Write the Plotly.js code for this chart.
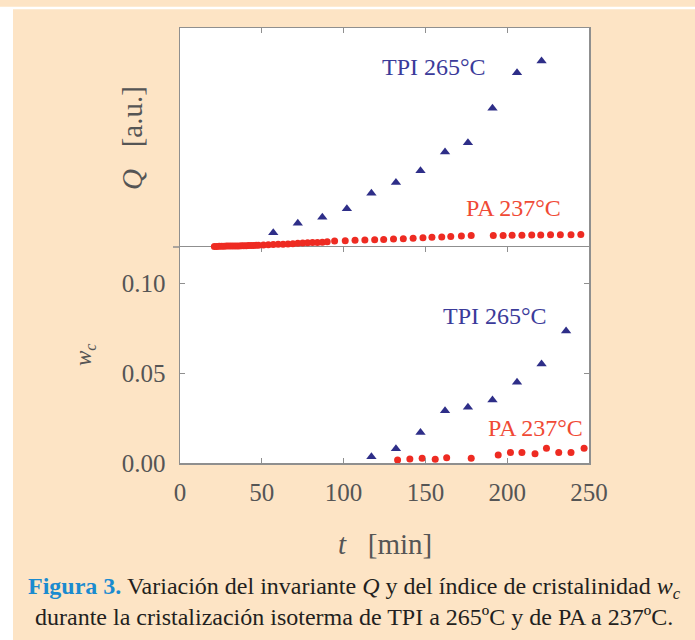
<!DOCTYPE html>
<html>
<head>
<meta charset="utf-8">
<script src="https://cdn.plot.ly/plotly-3.0.1.min.js"></script>
<style>html,body{margin:0;padding:0;background:#fde4c5;}</style>
</head>
<body>
<div id="chart" style="width:695px;height:640px;"></div>
<script>
// ---- data ----
// Top panel: invariant Q (arbitrary units)
const tQ_TPI = [57, 72, 87, 102, 117, 132, 147, 162, 176, 191, 206, 221];
const Q_TPI  = [0.065, 0.108, 0.136, 0.175, 0.245, 0.295, 0.348, 0.434, 0.476, 0.633, 0.796, 0.849];

const tQ_PA = [21, 22.5, 24, 25.5, 27, 28.5, 30, 31.5, 33, 34.5, 36, 37.5, 39, 40.5, 42, 43.5, 45, 46.5, 48,
               51, 54, 57, 60, 63, 66, 69, 72, 75, 78, 81, 84, 87, 90,
               94.5, 101, 107, 113, 119, 124.5, 130.5, 136.5, 142.5, 148.5, 154, 160, 165.5, 172, 178,
               191.5, 197.5, 203, 209, 215, 220.5, 226.5, 232.5, 239, 245];
const Q_PA  = [0.002, 0.002, 0.003, 0.003, 0.003, 0.004, 0.004, 0.004, 0.005, 0.005, 0.005, 0.006, 0.006, 0.006, 0.007, 0.007, 0.007, 0.008, 0.008,
               0.009, 0.010, 0.011, 0.012, 0.013, 0.014, 0.015, 0.017, 0.018, 0.019, 0.020, 0.021, 0.022, 0.024,
               0.027, 0.029, 0.031, 0.032, 0.033, 0.034, 0.036, 0.038, 0.040, 0.042, 0.044, 0.046, 0.048, 0.050, 0.052,
               0.053, 0.053, 0.054, 0.054, 0.055, 0.055, 0.056, 0.056, 0.056, 0.057];

// Bottom panel: crystallinity index w_c
const tW_TPI = [117, 132, 147, 162, 176, 191, 206, 221, 236];
const W_TPI  = [0.0035, 0.0079, 0.017, 0.029, 0.031, 0.035, 0.0448, 0.055, 0.0733];

const tW_PA = [133, 140.5, 148, 156, 163, 178, 194.5, 202, 209, 217, 224, 231.5, 239, 247];
const W_PA  = [0.0017, 0.0022, 0.0026, 0.0021, 0.0029, 0.0026, 0.0044, 0.0059, 0.0059, 0.0052, 0.0082, 0.0059, 0.0059, 0.0082];

const xTicks = [0, 50, 100, 150, 200, 250];
const wTicks = [0, 0.05, 0.10];
const wTickText = ['0.00', '0.05', '0.10'];

const labelTPI = 'TPI 265°C';
const labelPA = 'PA 237°C';
const xTitle = '<i>t</i>   [min]';
const qTitle = '<i>Q</i>   [a.u.]';
const wTitle = '<i>w<sub>c</sub></i>';
const caption = '<b><span style="color:#1b8bcf">Figura 3.</span></b> Variación del invariante <i>Q</i> y del índice de cristalinidad <i>w<sub>c</sub></i><br>durante la cristalización isoterma de TPI a 265ºC y de PA a 237ºC.';

// ---- style ----
const SERIF = "'Liberation Serif', 'Times New Roman', serif";
const NAVY = '#2e2e88';
const RED = '#ee2b22';
const FRAME = '#8f8f8f';
const TICKCOL = '#555555';
const PEACH = '#fde4c5';

const triMarker = {symbol: 'triangle-up', size: 9, color: NAVY};
const dotMarker = {symbol: 'circle', size: 7, color: RED};

const traces = [
  {x: tQ_PA, y: Q_PA, xaxis: 'x2', yaxis: 'y2', mode: 'markers', marker: dotMarker, cliponaxis: false, name: labelPA},
  {x: tQ_TPI, y: Q_TPI, xaxis: 'x2', yaxis: 'y2', mode: 'markers', marker: triMarker, cliponaxis: false, name: labelTPI},
  {x: tW_PA, y: W_PA, xaxis: 'x', yaxis: 'y', mode: 'markers', marker: dotMarker, cliponaxis: false, name: labelPA},
  {x: tW_TPI, y: W_TPI, xaxis: 'x', yaxis: 'y', mode: 'markers', marker: triMarker, cliponaxis: false, name: labelTPI}
];

const splitFrac = 216 / 435;

const axisCommon = {
  showgrid: false, zeroline: false, showline: true, linecolor: FRAME, linewidth: 1.5,
  ticks: 'inside', ticklen: 5, tickwidth: 1, tickcolor: FRAME,
  tickfont: {family: SERIF, size: 25, color: TICKCOL}
};

const layout = {
  width: 695, height: 640,
  margin: {l: 180, r: 106, t: 28, b: 177, pad: 0},
  paper_bgcolor: PEACH, plot_bgcolor: '#ffffff',
  showlegend: false,
  font: {family: SERIF},
  xaxis: Object.assign({}, axisCommon, {
    domain: [0, 1], anchor: 'y', range: [0, 250], tickvals: xTicks, mirror: 'ticks',
    ticklabelstandoff: 6
  }),
  yaxis: Object.assign({}, axisCommon, {
    domain: [0, splitFrac], anchor: 'x', range: [0, 0.12], tickvals: wTicks, ticktext: wTickText,
    mirror: 'ticks', ticklabelstandoff: 8
  }),
  xaxis2: Object.assign({}, axisCommon, {
    domain: [0, 1], anchor: 'y2', range: [0, 250], tickvals: xTicks, side: 'top',
    showticklabels: false, mirror: false
  }),
  yaxis2: Object.assign({}, axisCommon, {
    domain: [splitFrac, 1], anchor: 'x2', range: [0, 1], ticks: '', showticklabels: false, mirror: true
  }),
  annotations: [
    {xref: 'x2', yref: 'y2', x: 155, y: 0.823, text: labelTPI, showarrow: false,
     font: {family: SERIF, size: 24, color: '#3b3b9a'}},
    {xref: 'x2', yref: 'y2', x: 204, y: 0.176, text: labelPA, showarrow: false,
     font: {family: SERIF, size: 24, color: '#f04a35'}},
    {xref: 'x', yref: 'y', x: 192.5, y: 0.0818, text: labelTPI, showarrow: false,
     font: {family: SERIF, size: 24, color: '#3b3b9a'}},
    {xref: 'x', yref: 'y', x: 217, y: 0.0197, text: labelPA, showarrow: false,
     font: {family: SERIF, size: 24, color: '#f04a35'}},
    {xref: 'paper', yref: 'paper', x: (385 - 180) / 409, y: (463 - 544) / 435, text: xTitle, showarrow: false,
     font: {family: SERIF, size: 29, color: TICKCOL}, xanchor: 'center', yanchor: 'middle'},
    {xref: 'paper', yref: 'paper', x: (132 - 180) / 409, y: (463 - 138) / 435, text: qTitle, showarrow: false,
     textangle: -90, font: {family: SERIF, size: 29, color: TICKCOL}, xanchor: 'center', yanchor: 'middle'},
    {xref: 'paper', yref: 'paper', x: (85 - 180) / 409, y: (463 - 355) / 435, text: wTitle, showarrow: false,
     textangle: -90, font: {family: SERIF, size: 23, color: TICKCOL}, xanchor: 'center', yanchor: 'middle'},
    {xref: 'paper', yref: 'paper', x: (354 - 180) / 409, y: (463 - 601) / 435, text: caption, showarrow: false,
     align: 'center', font: {family: SERIF, size: 24, color: '#231f20'}, xanchor: 'center', yanchor: 'middle'}
  ],
  shapes: [
    {type: 'line', xref: 'paper', yref: 'paper', x0: -180 / 409, x1: 515 / 409, y0: 455 / 435, y1: 455 / 435,
     line: {color: '#ffffff', width: 2.5}},
    {type: 'rect', xref: 'paper', yref: 'paper', x0: -180 / 409, x1: -167 / 409, y0: -177 / 435, y1: 454 / 435,
     line: {width: 0}, fillcolor: '#ffffff'},
    {type: 'line', xref: 'paper', yref: 'paper', x0: -7 / 409, x1: 0, y0: splitFrac, y1: splitFrac,
     line: {color: FRAME, width: 1.5}}
  ]
};

Plotly.newPlot('chart', traces, layout, {displayModeBar: false, staticPlot: true});
</script>
</body>
</html>
